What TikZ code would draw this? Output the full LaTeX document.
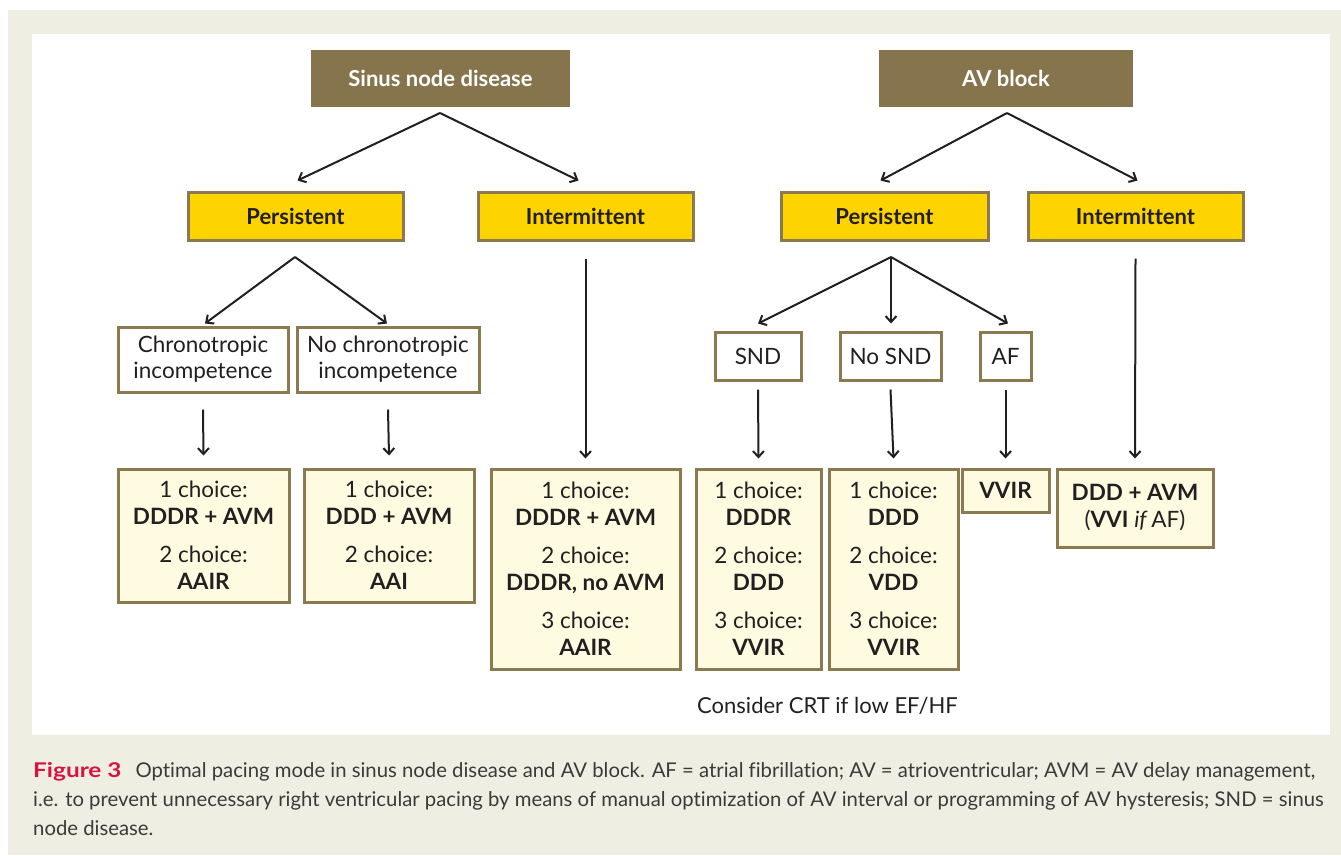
\documentclass[tikz,border=0pt]{standalone}
\usepackage{fontspec}
\setmainfont[Ligatures=NoCommon]{Lato}
\newfontfamily\capfont[Ligatures=NoCommon]{Lato}
\newfontfamily\figfont[FakeStretch=1.2]{Lato}
\usetikzlibrary{arrows.meta}

\definecolor{bgbeige}{HTML}{EFEEE3}
\definecolor{headbrown}{HTML}{86744D}
\definecolor{rimbrown}{HTML}{8B7A50}
\definecolor{boxyellow}{HTML}{FDD300}
\definecolor{paleyellow}{HTML}{FEFBE0}
\definecolor{figred}{HTML}{D7143F}
\definecolor{inkdark}{HTML}{231F20}
\definecolor{captext}{HTML}{3A3A3A}

\tikzset{
  head/.style={fill=headbrown, text=white, inner sep=0pt,
    font=\fontsize{22}{26}\selectfont\bfseries, minimum height=57pt},
  branch/.style={fill=boxyellow, draw=rimbrown, line width=3pt, text=inkdark, inner sep=0pt,
    font=\fontsize{22}{26}\selectfont\bfseries, minimum width=215pt, minimum height=48pt},
  cond/.style={fill=white, draw=rimbrown, line width=3pt, text=inkdark, inner sep=0pt,
    align=center, font=\fontsize{22.5}{26}\selectfont},
  mode/.style={fill=paleyellow, draw=rimbrown, line width=3pt, text=inkdark, inner sep=0pt,
    align=center, font=\fontsize{22.5}{27}\selectfont},
  arr/.style={line width=2pt, draw=inkdark, -{Straight Barb[length=6pt,width=11pt]}},
  capline/.style={anchor=base west, inner sep=0pt, text=captext, font=\capfont\fontsize{20.3}{28}\selectfont}
}

\begin{document}
\begin{tikzpicture}[x=1pt,y=-1pt]

\useasboundingbox (0,0) rectangle (1341,855);
\fill[bgbeige] (8,10) rectangle (1341,855);
\fill[white] (32,34) rectangle (1330,735);

% top level
\node[head, minimum width=259pt] (sinus) at (440.5,78.5) {Sinus node disease};
\node[head, minimum width=254pt] (avblock) at (1006,78.5) {AV block};

\node[branch] (pers1) at (295.5,216) {Persistent};
\node[branch] (inter1) at (585.5,216) {Intermittent};
\node[branch, minimum width=207pt] (pers2) at (884.5,216) {Persistent};
\node[branch] (inter2) at (1135.5,216) {Intermittent};

% conditions
\node[cond, minimum width=170pt, minimum height=65pt] (chrono) at (203,359.5) {Chronotropic\\incompetence};
\node[cond, minimum width=182pt, minimum height=65pt] (nochrono) at (388,359.5) {No chronotropic\\incompetence};
\node[cond, minimum width=86pt, minimum height=48pt] (snd) at (758,356) {SND};
\node[cond, minimum width=101pt, minimum height=48pt] (nosnd) at (890.5,356) {No SND};
\node[cond, minimum width=51pt, minimum height=48pt] (af) at (1005.5,356) {AF};

% pacing modes
\node[mode, minimum width=171pt, minimum height=133pt] (modeA) at (203.5,535.5)
  {1 choice:\\\textbf{DDDR + AVM}\\[11pt]2 choice:\\\textbf{AAIR}};
\node[mode, minimum width=170pt, minimum height=133pt] (modeB) at (389,535.5)
  {1 choice:\\\textbf{DDD + AVM}\\[11pt]2 choice:\\\textbf{AAI}};
\node[mode, minimum width=189pt, minimum height=200pt] (modeC) at (585.5,569)
  {1 choice:\\\textbf{DDDR + AVM}\\[11pt]2 choice:\\\textbf{DDDR, no AVM}\\[11pt]3 choice:\\\textbf{AAIR}};
\node[mode, minimum width=125pt, minimum height=200pt] (modeD) at (758.5,569)
  {1 choice:\\\textbf{DDDR}\\[11pt]2 choice:\\\textbf{DDD}\\[11pt]3 choice:\\\textbf{VVIR}};
\node[mode, minimum width=129pt, minimum height=200pt] (modeE) at (893.5,569)
  {1 choice:\\\textbf{DDD}\\[11pt]2 choice:\\\textbf{VDD}\\[11pt]3 choice:\\\textbf{VVIR}};
\node[mode, minimum width=87pt, minimum height=43pt] (modeF) at (1005.5,490.5) {\textbf{VVIR}};
\node[mode, minimum width=156pt, minimum height=78pt] (modeG) at (1135,508)
  {\textbf{DDD + AVM}\\(\textbf{VVI} \textit{if}\,AF)};

\node[inner sep=0pt, anchor=base, text=inkdark, font=\fontsize{22}{26}\selectfont] (crt) at (827.5,713) {Consider CRT if low EF/HF};

% split points
\coordinate (s0) at (440,113);
\coordinate (a0) at (1007,113);
\coordinate (p1) at (295,257);
\coordinate (p2) at (891,257);

\draw[arr] (s0) -- ([xshift=2pt,yshift=10pt]pers1.north);
\draw[arr] (s0) -- ([xshift=-7pt,yshift=10pt]inter1.north);
\draw[arr] (a0) -- ([xshift=-4pt,yshift=10pt]pers2.north);
\draw[arr] (a0) -- ([xshift=2pt,yshift=10pt]inter2.north);

\draw[arr] (p1) -- ([xshift=2pt,yshift=2pt]chrono.north);
\draw[arr] (p1) -- ([xshift=-1pt,yshift=2pt]nochrono.north);
\draw[arr] (p2) -- ([yshift=7pt]snd.north);
\draw[arr] (p2) -- ([xshift=0.5pt,yshift=7pt]nosnd.north);
\draw[arr] (p2) -- ([xshift=2.5pt,yshift=7pt]af.north);

\draw[arr] ([yshift=-17pt]inter1.south) -- ([yshift=9pt]modeC.north);
\draw[arr] ([yshift=-17pt]inter2.south) -- ([yshift=9pt]modeG.north);
\draw[arr] ([yshift=-16pt]chrono.south) -- ([yshift=12pt]modeA.north);
\draw[arr] ([yshift=-16pt]nochrono.south) -- ([yshift=12pt]modeB.north);
\draw[arr] ([yshift=-8pt]snd.south) -- ([yshift=9pt]modeD.north);
\draw[arr] ([yshift=-8pt]nosnd.south) -- ([yshift=9pt]modeE.north);
\draw[arr] ([yshift=-8pt]af.south) -- ([yshift=9pt]modeF.north);

% caption
\node[capline] (cap1) at (33,777) {{\figfont\bfseries\color{figred}Figure 3}\hspace{14pt}Optimal pacing mode in sinus node disease and AV block. AF = atrial fibrillation; AV = atrioventricular; AVM = AV delay management,};
\node[capline] (cap2) at (33,806) {i.e. to prevent unnecessary right ventricular pacing by means of manual optimization of AV interval or programming of AV hysteresis; SND = sinus};
\node[capline] (cap3) at (33,835) {node disease.};

\end{tikzpicture}
\end{document}
